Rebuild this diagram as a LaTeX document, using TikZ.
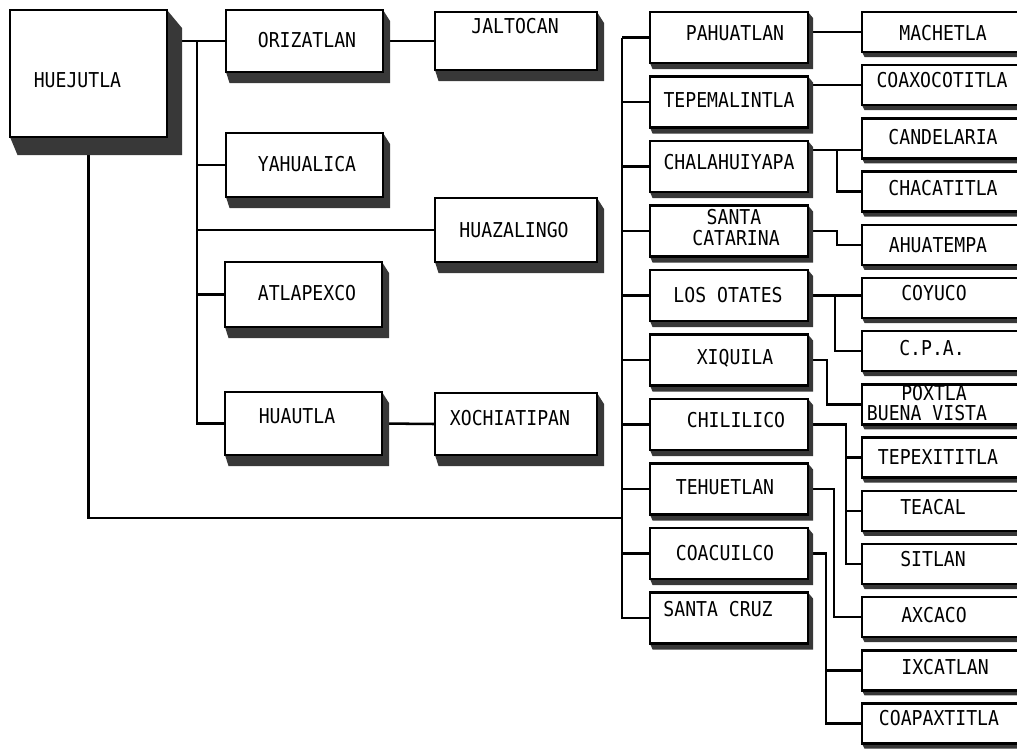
\documentclass[tikz,border=0pt]{standalone}
\usepackage{fontspec}
\usepackage{graphicx}
\usetikzlibrary{fit}
\newfontfamily\boxfont{DejaVu Sans Mono}
\newcommand\bt[1]{\scalebox{1}[1.13]{#1}}
\pgfdeclarelayer{bg}
\pgfsetlayers{bg,main}
\tikzset{
  frontbox/.style={draw, fill=white, line width=1.9pt, inner sep=0pt, outer sep=0pt},
  shadowfill/.style={fill=black!78},
  conn/.style={line width=1.9pt},
  lbl/.style={font=\boxfont\fontsize{13.6}{16}\selectfont, inner sep=0pt}
}
% name, x1, y1, x2, y2, dx, dy
\newcommand\ebox[7]{%
  \fill[shadowfill] (#2,#5) -- (#2+0.5*#6,#5+#7) -- (#4+#6,#5+#7) -- (#4+#6,#3+#7) -- (#4,#3) -- cycle;
  \node[frontbox, fit={(#2,#3)(#4,#5)}] (#1) {};
}
\begin{document}
\begin{tikzpicture}[x=0.75pt,y=-0.75pt]
\useasboundingbox (0,0) rectangle (1017,751);
\clip (0,0) rectangle (1017,751);

% main box
\ebox{hue}{10}{10}{167}{137}{15}{18}
\node[lbl] (hue-t) at (77.5,80) {\bt{HUEJUTLA}};

% first column
\ebox{ori}{226}{10}{383}{72}{7}{11}
\node[lbl] (ori-t) at (307,40) {\bt{ORIZATLAN}};
\ebox{yah}{226}{133}{383}{197}{7}{11}
\node[lbl] (yah-t) at (307,164) {\bt{YAHUALICA}};
\ebox{atl}{225}{262}{382}{327}{7}{11}
\node[lbl] (atl-t) at (307,293) {\bt{ATLAPEXCO}};
\ebox{hua}{225}{392}{382}{455}{7}{11}
\node[lbl] (hua-t) at (297,416) {\bt{HUAUTLA}};

% second column
\ebox{jal}{435}{12}{597}{70}{7}{11}
\node[lbl] (jal-t) at (515,26) {\bt{JALTOCAN}};
\ebox{huz}{435}{198}{597}{262}{7}{11}
\node[lbl] (huz-t) at (514,230) {\bt{HUAZALINGO}};
\ebox{xoc}{435}{393}{597}{455}{7}{11}
\node[lbl] (xoc-t) at (510,418) {\bt{XOCHIATIPAN}};

% column A
\ebox{pah}{650}{12}{808}{63}{5}{6}
\node[lbl] (pah-t) at (735,33) {\bt{PAHUATLAN}};
\ebox{tep}{650}{76.5}{808}{127.5}{5}{6}
\node[lbl] (tep-t) at (729,100) {\bt{TEPEMALINTLA}};
\ebox{cha}{650}{141}{808}{192}{5}{6}
\node[lbl] (cha-t) at (729,162) {\bt{CHALAHUIYAPA}};
\ebox{sca}{650}{205.5}{808}{256.5}{5}{6}
\node[lbl] (sca-t1) at (734,217) {\bt{SANTA}};
\node[lbl] (sca-t2) at (736,238) {\bt{CATARINA}};
\ebox{lot}{650}{270}{808}{321}{5}{6}
\node[lbl] (lot-t) at (728,295) {\bt{LOS OTATES}};
\ebox{xiq}{650}{334.5}{808}{385.5}{5}{6}
\node[lbl] (xiq-t) at (735,358) {\bt{XIQUILA}};
\ebox{chi}{650}{399}{808}{450}{5}{6}
\node[lbl] (chi-t) at (736,420) {\bt{CHILILICO}};
\ebox{teh}{650}{463.5}{808}{514.5}{5}{6}
\node[lbl] (teh-t) at (725,487) {\bt{TEHUETLAN}};
\ebox{coac}{650}{528}{808}{579}{5}{6}
\node[lbl] (coac-t) at (725,553) {\bt{COACUILCO}};
\ebox{scr}{650}{592.5}{808}{643.5}{5}{6}
\node[lbl] (scr-t) at (718,609) {\bt{SANTA CRUZ}};

% column B
\ebox{mach}{862}{12}{1030}{52}{5}{5}
\node[lbl] (mach-t) at (943,33) {\bt{MACHETLA}};
\ebox{coax}{862}{65.2}{1030}{105.2}{5}{5}
\node[lbl] (coax-t) at (942,80) {\bt{COAXOCOTITLA}};
\ebox{cand}{862}{118.4}{1030}{158.4}{5}{5}
\node[lbl] (cand-t) at (943,137) {\bt{CANDELARIA}};
\ebox{chac}{862}{171.6}{1030}{211.6}{5}{5}
\node[lbl] (chac-t) at (943,188) {\bt{CHACATITLA}};
\ebox{ahua}{862}{224.8}{1030}{264.8}{5}{5}
\node[lbl] (ahua-t) at (938,245) {\bt{AHUATEMPA}};
\ebox{coy}{862}{278}{1030}{318}{5}{5}
\node[lbl] (coy-t) at (934,293) {\bt{COYUCO}};
\ebox{cpa}{862}{331.2}{1030}{371.2}{5}{5}
\node[lbl] (cpa-t) at (932,348) {\bt{C.P.A.}};
\ebox{pox}{862}{384.4}{1030}{424.4}{5}{5}
\node[lbl] (pox-t1) at (934,393) {\bt{POXTLA}};
\node[lbl] (pox-t2) at (927,413.5) {\bt{BUENA VISTA}};
\ebox{tepx}{862}{437.6}{1030}{477.6}{5}{5}
\node[lbl] (tepx-t) at (938,457) {\bt{TEPEXITITLA}};
\ebox{teac}{862}{490.8}{1030}{530.8}{5}{5}
\node[lbl] (teac-t) at (933,507) {\bt{TEACAL}};
\ebox{sit}{862}{544}{1030}{584}{5}{5}
\node[lbl] (sit-t) at (933,559) {\bt{SITLAN}};
\ebox{axc}{862}{597.2}{1030}{637.2}{5}{5}
\node[lbl] (axc-t) at (934,615) {\bt{AXCACO}};
\ebox{ixc}{862}{650.4}{1030}{690.4}{5}{5}
\node[lbl] (ixc-t) at (945,667) {\bt{IXCATLAN}};
\ebox{coap}{862}{703.6}{1030}{743.6}{5}{5}
\node[lbl] (coap-t) at (939,718) {\bt{COAPAXTITLA}};

\begin{pgfonlayer}{bg}
\begin{scope}[conn]
  \draw (hue.east |- ori.west) -- (ori.west);
  \coordinate (tr1) at (197,0);
  \draw (tr1 |- ori.west) -- (tr1 |- hua.west) -- (hua.west);
  \draw (tr1 |- yah.west) -- (yah.west);
  \draw (tr1 |- huz.west) -- (huz.west);
  \draw (tr1 |- atl.west) -- (atl.west);
  \draw (ori.east) -- (jal.west);
  \draw (hua.east) -- (xoc.west);
  \coordinate (tr2) at (622,518);
  \draw (hue.south) |- (tr2);
  \draw (tr2 |- pah.west) -- (tr2 |- scr.west) -- (scr.west);
  \foreach \n in {pah,tep,cha,sca,lot,xiq,chi,teh,coac} \draw (tr2 |- \n.west) -- (\n.west);
  \draw (pah.east |- mach.west) -- (mach.west);
  \draw (tep.east |- coax.west) -- (coax.west);
  \coordinate (jc) at (837,150);
  \draw (cha.east |- jc) -- (cand.west |- jc);
  \draw (jc) |- (chac.west);
  \coordinate (js) at (837,231);
  \draw (sca.east |- js) -- (js) |- (ahua.west);
  \coordinate (jl) at (835,0);
  \draw (lot.east) -- (lot.east -| coy.west);
  \draw (jl |- lot.east) |- (cpa.west);
  \coordinate (jx) at (827,0);
  \draw (xiq.east) -| (jx |- pox.west) -- (pox.west);
  \coordinate (jh) at (846,0);
  \draw (chi.east) -| (jh |- sit.west) -- (sit.west);
  \draw (jh |- tepx.west) -- (tepx.west);
  \draw (jh |- teac.west) -- (teac.west);
  \coordinate (jt) at (834,0);
  \draw (teh.east) -| (jt |- axc.west) -- (axc.west);
  \coordinate (jo) at (826,0);
  \draw (coac.east) -| (jo |- coap.west) -- (coap.west);
  \draw (jo |- ixc.west) -- (ixc.west);
\end{scope}
\end{pgfonlayer}
\end{tikzpicture}
\end{document}
